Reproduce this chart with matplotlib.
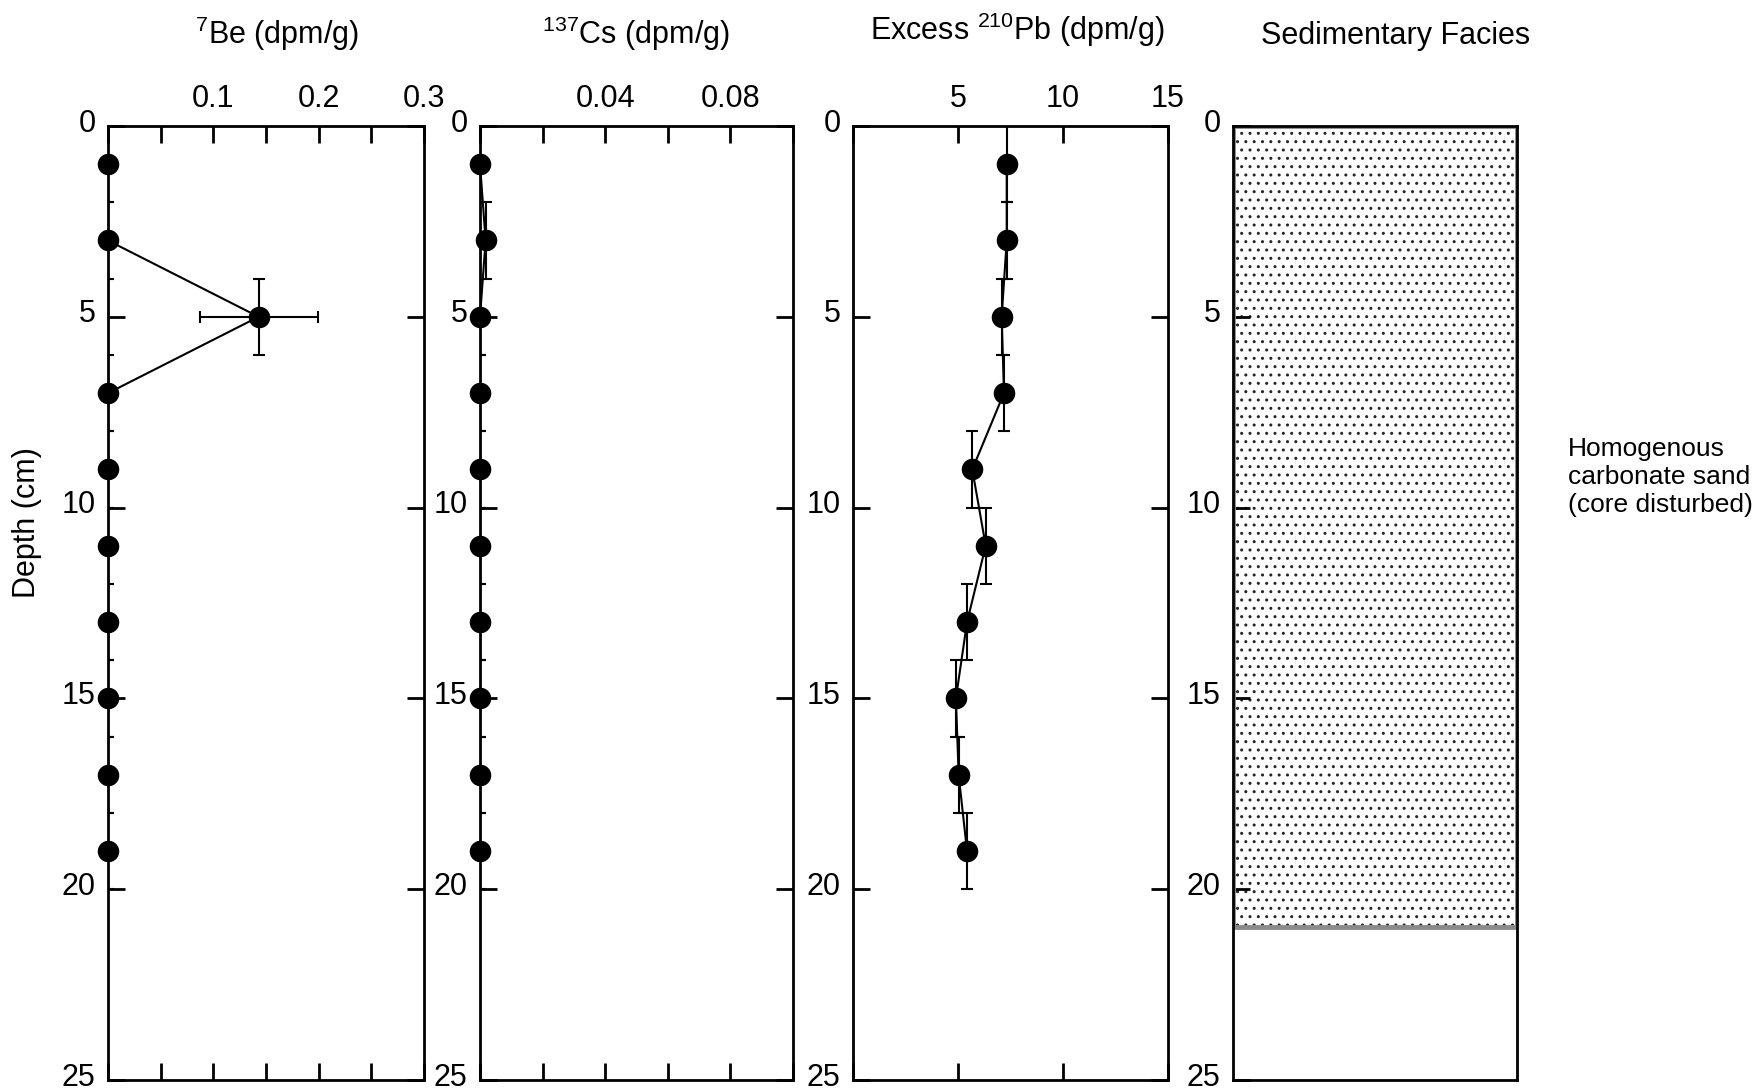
import matplotlib
matplotlib.use("Agg")
import matplotlib.pyplot as plt
import matplotlib.transforms as mtransforms

plt.rcParams["font.family"] = ["Liberation Sans", "DejaVu Sans"]
plt.rcParams["mathtext.fontset"] = "custom"
plt.rcParams["mathtext.rm"] = "Liberation Sans"
plt.rcParams["mathtext.it"] = "Liberation Sans:italic"
plt.rcParams["hatch.linewidth"] = 1.0

# --- data ---
depth = [1, 3, 5, 7, 9, 11, 13, 15, 17, 19]
depth_err = [1, 1, 1, 1, 1, 1, 1, 1, 1, 1]

be7 = [0, 0, 0.143, 0, 0, 0, 0, 0, 0, 0]
be7_err = [0, 0, 0.056, 0, 0, 0, 0, 0, 0, 0]

cs137 = [0, 0.0018, 0, 0, 0, 0, 0, 0, 0, 0]

pb210 = [7.32, 7.32, 7.08, 7.19, 5.68, 6.32, 5.43, 4.90, 5.03, 5.43]

be_ticks = [0, 0.05, 0.1, 0.15, 0.2, 0.25, 0.3]
be_labels = ["", "", "0.1", "", "0.2", "", "0.3"]
cs_ticks = [0, 0.02, 0.04, 0.06, 0.08, 0.1]
cs_labels = ["", "", "0.04", "", "0.08", ""]
pb_ticks = [0, 5, 10, 15]
pb_labels = ["", "5", "10", "15"]

facies_top = [0]
facies_bottom = [21]
facies_label = ["Homogenous\ncarbonate sand\n(core disturbed)"]

FS = 22
W, H = 1761, 1090
fig = plt.figure(figsize=(W / 100, H / 100), dpi=100)
lift = mtransforms.ScaledTranslation(0, 0.06, fig.dpi_scale_trans)


def add_panel(x0, x1):
    return fig.add_axes([x0 / W, (H - 1080) / H, (x1 - x0) / W, (1080 - 126) / H])


def style_depth(ax, mirror=True):
    ax.set_ylim(25, 0)
    ax.set_yticks([0, 5, 10, 15, 20, 25])
    ax.tick_params(axis="y", direction="in", length=12, width=2,
                   left=True, right=mirror, labelsize=FS, pad=9)
    for lab in ax.get_yticklabels():
        lab.set_transform(lab.get_transform() + lift)
    for s in ax.spines.values():
        s.set_linewidth(2)


def style_x(ax, ticks, labels):
    ax.set_xlim(ticks[0], ticks[-1])
    ax.set_xticks(ticks)
    ax.set_xticklabels(labels)
    ax.tick_params(axis="x", direction="in", length=12, width=2,
                   top=True, bottom=True, labeltop=True, labelbottom=False,
                   labelsize=FS, pad=9)


def profile(ax, x, xerr=None):
    ax.errorbar(x, depth, yerr=depth_err, xerr=xerr, color="black", lw=1.5,
                elinewidth=1.5, capsize=4.5, capthick=1.5, fmt="-", zorder=2)
    ax.plot(x, depth, "o", color="black", ms=14.5, clip_on=False, zorder=3)


# 7Be
ax1 = add_panel(108, 424)
profile(ax1, be7, be7_err)
style_x(ax1, be_ticks, be_labels)
style_depth(ax1)

# 137Cs
ax2 = add_panel(480, 793)
profile(ax2, cs137)
style_x(ax2, cs_ticks, cs_labels)
style_depth(ax2)

# excess 210Pb
ax3 = add_panel(853, 1168)
profile(ax3, pb210)
style_x(ax3, pb_ticks, pb_labels)
style_depth(ax3)

# sedimentary facies
ax4 = add_panel(1233, 1517)
ax4.set_xlim(0, 1)
style_depth(ax4, mirror=False)
ax4.set_xticks([])
for top, bot, lab in zip(facies_top, facies_bottom, facies_label):
    ax4.axhspan(top, bot, facecolor="white", edgecolor="#262626", hatch="..",
                lw=0, zorder=1)
    ax4.axhspan(top, bot, facecolor="none", edgecolor="#8a8a8a", lw=3.5, zorder=2)
    ax4.text(1.18, (top + bot) / 2 - 1.3, lab, transform=ax4.get_yaxis_transform(),
             ha="left", va="center", fontsize=19, linespacing=1.2)

# column titles and depth label
fig.text(277 / W, 1 - 34 / H, "$^{7}$Be (dpm/g)", ha="center", va="center", fontsize=FS)
fig.text(636 / W, 1 - 34 / H, "$^{137}$Cs (dpm/g)", ha="center", va="center", fontsize=FS)
fig.text(1017 / W, 1 - 30 / H, "Excess $^{210}$Pb (dpm/g)", ha="center", va="center", fontsize=FS)
fig.text(1396 / W, 1 - 36 / H, "Sedimentary Facies", ha="center", va="center", fontsize=FS)
fig.text(27 / W, 1 - 523 / H, "Depth (cm)", rotation=90, ha="center", va="center", fontsize=FS)

fig.savefig("out.png", dpi=100)
